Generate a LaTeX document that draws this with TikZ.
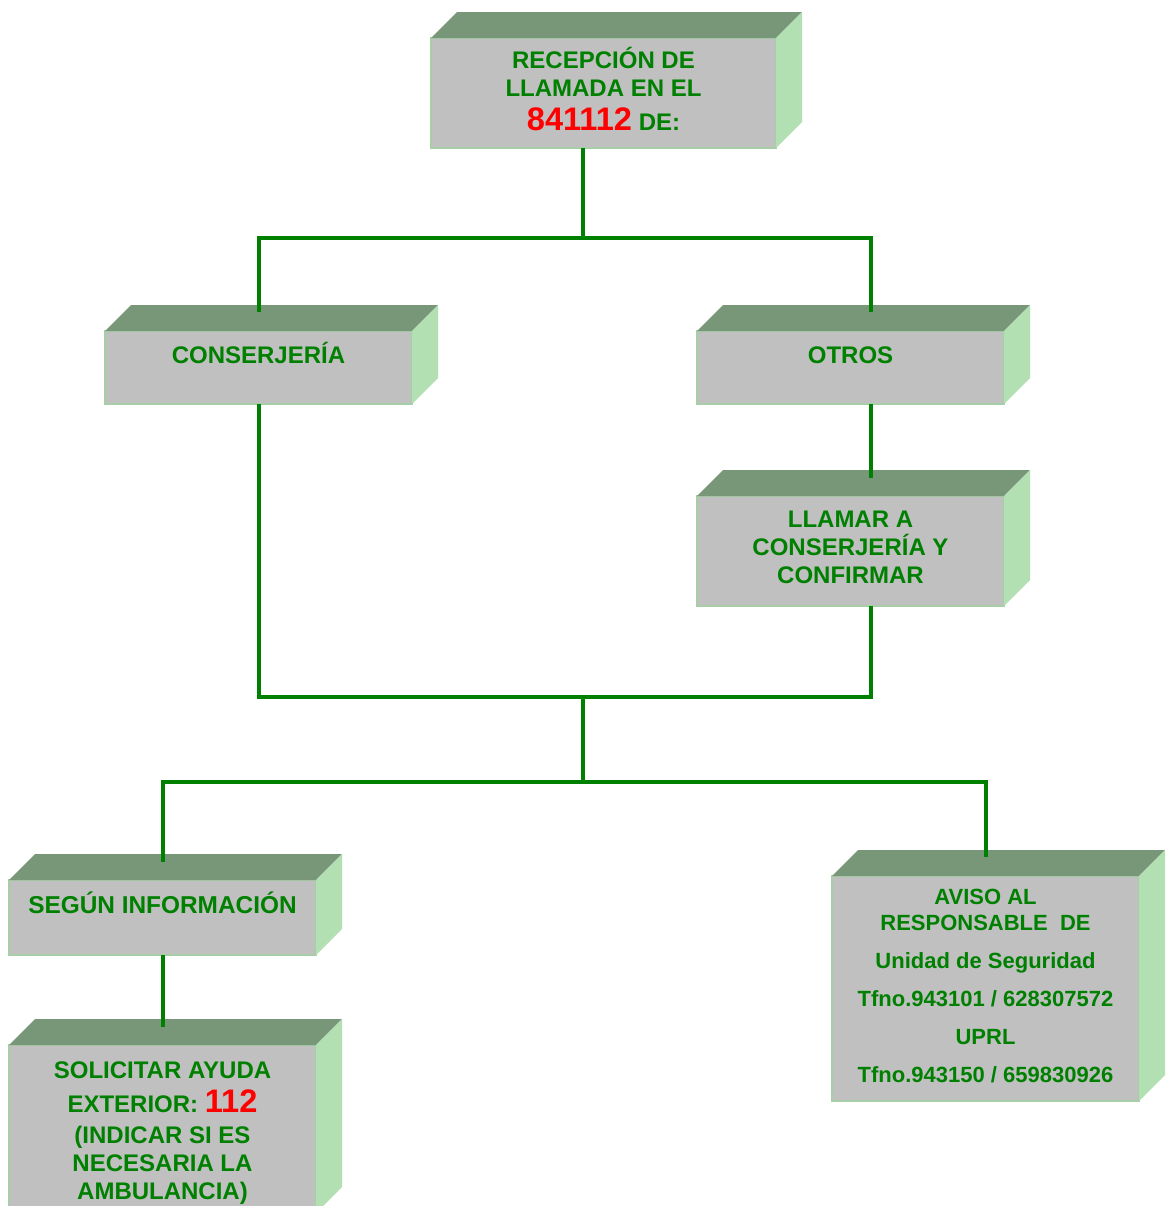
\documentclass[tikz,border=0pt]{standalone}
\usepackage{fontspec}
\setmainfont{Liberation Sans}
\usetikzlibrary{calc,positioning}

\definecolor{frente}{RGB}{192,192,192}
\definecolor{tapacol}{RGB}{120,150,120}
\definecolor{ladocol}{RGB}{179,224,179}
\definecolor{borde}{RGB}{168,206,168}
\definecolor{verdetxt}{RGB}{0,128,0}
\definecolor{rojo}{RGB}{255,0,0}

\newcommand\numrojo[1]{{\color{rojo}\fontsize{16.3}{16}\selectfont #1}}

\begin{document}
\begin{tikzpicture}[
    x=0.5pt, y=-0.5pt,
    caja/.style={draw=borde, fill=frente, line width=1pt, outer sep=0pt, inner sep=0pt, minimum width=153.5pt},
    texto/.style={text=verdetxt, font=\fontsize{12}{14}\selectfont\bfseries, align=center, inner sep=0pt},
    linea/.style={draw=verdetxt, line width=2pt},
    tapa/.style={fill=tapacol},
    lado/.style={fill=ladocol}
]
    \useasboundingbox (0,0) rectangle (1167,1206);

    % cajas (cara frontal)
    \node[caja, minimum width=172.5pt, minimum height=55pt] (recep) at (603.5,93) {};
    \node[caja, minimum height=36.5pt] (conser) at (258.5,367.5) {};
    \node[caja, minimum height=36.5pt] (otros) at (850.5,367.5) {};
    \node[caja, minimum height=55pt] (llamar) at (850.5,551) {};
    \node[caja, minimum height=37.5pt] (segun) at (162.5,917.5) {};
    \node[caja, minimum height=84pt] (solicitar) at (162.5,1129) {};
    \node[caja, minimum height=112.5pt] (aviso) at (985.5,988.5) {};

    % caras superior y lateral
    \foreach \n in {recep,conser,otros,llamar,segun,solicitar,aviso} {
        \fill[tapa] (\n.north west) -- ++(26,-26) -- ($(\n.north east)+(26,-26)$) -- (\n.north east) -- cycle;
        \fill[lado] (\n.north east) -- ++(26,-26) -- ($(\n.south east)+(26,-26)$) -- (\n.south east) -- cycle;
    }

    % textos
    \node[texto, anchor=north] (t-recep) at (603.5,46.5) {RECEPCIÓN DE\\LLAMADA EN EL\\[3pt]\numrojo{841112} DE:};
    \node[texto, anchor=base] (t-conser) at (258.5,363) {CONSERJERÍA};
    \node[texto, anchor=base] (t-otros) at (850.5,363) {OTROS};
    \node[texto, anchor=north] (t-llamar) at (850.5,511) {LLAMAR A\\CONSERJERÍA Y\\CONFIRMAR};
    \node[texto, anchor=base, font=\fontsize{12.2}{14}\selectfont\bfseries] (t-segun) at (162.5,913) {SEGÚN INFORMACIÓN};
    \node[texto, anchor=north] (t-solicitar) at (162.5,1061) {SOLICITAR AYUDA\\[3pt]EXTERIOR: \numrojo{112}\\[1.5pt](INDICAR SI ES\\NECESARIA LA\\AMBULANCIA)};
    \node[texto, anchor=north, font=\fontsize{11}{13}\selectfont\bfseries] (t-aviso) at (985.5,889) {AVISO AL\\RESPONSABLE~~DE\\[6pt]Unidad de Seguridad\\[6pt]Tfno.943101 / 628307572\\[6pt]UPRL\\[6pt]Tfno.943150 / 659830926};

    % puntos de union
    \coordinate (j1) at (583,238);
    \coordinate (j2) at (583,697);
    \coordinate (j3) at (583,782);
    \coordinate (otros-in) at (871,312);
    \coordinate (otros-out) at (871,404);
    \coordinate (llamar-in) at (871,478);
    \coordinate (llamar-out) at (871,606);

    % conexiones
    \draw[linea] (recep.south -| j1) -- (j1);
    \draw[linea] ($(conser.north)+(0,-19)$) |- (j1) -| (otros-in);
    \draw[linea] (otros-out) -- (llamar-in);
    \draw[linea] (conser.south) |- (j2) -| (llamar-out);
    \draw[linea] (j2) -- (j3);
    \draw[linea] ($(segun.north)+(0,-18)$) |- (j3) -| ($(aviso.north)+(0,-19)$);
    \draw[linea] (segun.south) -- ($(solicitar.north)+(0,-18)$);

\end{tikzpicture}
\end{document}
